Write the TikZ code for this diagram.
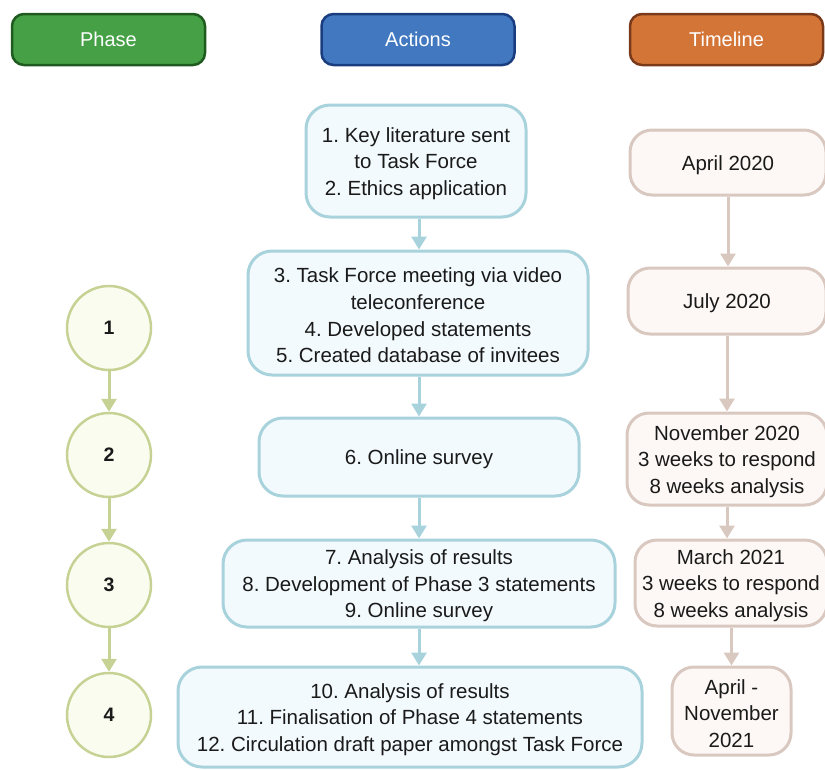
\documentclass[tikz,border=0pt]{standalone}
\usepackage{fontspec}
\setmainfont{Liberation Sans}
\usetikzlibrary{arrows.meta}
\frenchspacing
\definecolor{phfill}{HTML}{46A046}
\definecolor{phdraw}{HTML}{1F5A1F}
\definecolor{acfill}{HTML}{4178C0}
\definecolor{acdraw}{HTML}{1A3D80}
\definecolor{tlfill}{HTML}{D47538}
\definecolor{tldraw}{HTML}{7A3A1A}
\definecolor{cfill}{HTML}{FAFCEF}
\definecolor{cdraw}{HTML}{C6D294}
\definecolor{afill}{HTML}{F3FAFD}
\definecolor{adraw}{HTML}{A8D2DC}
\definecolor{tfill}{HTML}{FDF8F5}
\definecolor{tdraw}{HTML}{D9C8C0}
\definecolor{txt}{HTML}{1A1A1A}
\tikzset{
  header/.style={rounded corners=12pt, line width=2.5pt, minimum width=193pt, minimum height=51pt, text=white, font=\fontsize{20}{24}\selectfont},
  phasecirc/.style={circle, draw=cdraw, fill=cfill, line width=2.5pt, minimum size=84pt, inner sep=0pt, font=\fontsize{19.5}{23}\selectfont\bfseries, text=txt},
  actbox/.style={draw=adraw, fill=afill, line width=3pt, rounded corners=24pt, inner sep=0pt},
  timebox/.style={draw=tdraw, fill=tfill, line width=3pt, rounded corners=22pt, inner sep=0pt},
  boxtext/.style={align=center, text=txt, font=\fontsize{20.5}{26.6}\selectfont, inner sep=0pt, yshift=-2.5pt},
  garrow/.style={draw=cdraw, line width=3pt, -{Triangle[width=15pt,length=13pt]}},
  barrow/.style={draw=adraw, line width=3pt, -{Triangle[width=15pt,length=13pt]}},
  tarrow/.style={draw=tdraw, line width=3pt, -{Triangle[width=15pt,length=13pt]}}
}
\begin{document}
\begin{tikzpicture}[x=1pt,y=-1pt]
\useasboundingbox (0,0) rectangle (825,769);
\clip (0,0) rectangle (825,769);
% headers
\node[header, draw=phdraw, fill=phfill] (hph) at (108.5,39.5) {Phase};
\node[header, draw=acdraw, fill=acfill] (hac) at (418,39.5) {Actions};
\node[header, draw=tldraw, fill=tlfill] (htl) at (726.5,39.5) {Timeline};
% phases
\node[phasecirc] (p1) at (109,328) {1};
\node[phasecirc] (p2) at (109,455) {2};
\node[phasecirc] (p3) at (109,585) {3};
\node[phasecirc] (p4) at (109,715) {4};
\draw[garrow] (p1.south) -- (p2.north);
\draw[garrow] (p2.south) -- (p3.north);
\draw[garrow] (p3.south) -- (p4.north);
% actions
\node[actbox, minimum width=220pt, minimum height=112pt] (a1) at (416,161) {};
\node[boxtext] (a1t) at (a1.center) {1. Key literature sent\\to Task Force\\2. Ethics application};
\node[actbox, minimum width=340pt, minimum height=124pt] (a2) at (418,313) {};
\node[boxtext] (a2t) at (a2.center) {3. Task Force meeting via video\\teleconference\\4. Developed statements\\5. Created database of invitees};
\node[actbox, minimum width=320pt, minimum height=78pt] (a3) at (419,457) {};
\node[boxtext] (a3t) at (a3.center) {6. Online survey};
\node[actbox, minimum width=392pt, minimum height=87pt] (a4) at (419,583.5) {};
\node[boxtext] (a4t) at (a4.center) {7. Analysis of results\\8. Development of Phase 3 statements\\9. Online survey};
\node[actbox, minimum width=464pt, minimum height=100pt] (a5) at (410,717) {};
\node[boxtext] (a5t) at (a5.center) {10. Analysis of results\\11. Finalisation of Phase 4 statements\\12. Circulation draft paper amongst Task Force};
\coordinate (ax) at (419,0);
\draw[barrow] (ax |- a1.south) -- (ax |- a2.north);
\draw[barrow] (ax |- a2.south) -- (ax |- a3.north);
\draw[barrow] (ax |- a3.south) -- (ax |- a4.north);
\draw[barrow] (ax |- a4.south) -- (ax |- a5.north);
% timeline
\node[timebox, minimum width=196pt, minimum height=65pt] (t1) at (728,162.5) {};
\node[boxtext] (t1t) at (t1.center) {April 2020};
\node[timebox, minimum width=198pt, minimum height=66pt] (t2) at (727,301) {};
\node[boxtext] (t2t) at (t2.center) {July 2020};
\node[timebox, minimum width=200pt, minimum height=92pt] (t3) at (727,459) {};
\node[boxtext] (t3t) at (t3.center) {November 2020\\3 weeks to respond\\8 weeks analysis};
\node[timebox, minimum width=192pt, minimum height=86pt] (t4) at (731,583) {};
\node[boxtext] (t4t) at (t4.center) {March 2021\\3 weeks to respond\\8 weeks analysis};
\node[timebox, minimum width=119pt, minimum height=88pt] (t5) at (731.5,711) {};
\node[boxtext] (t5t) at (t5.center) {April -\\November\\2021};
\coordinate (tx) at (728,0);
\draw[tarrow] (tx |- t1.south) -- (tx |- t2.north);
\draw[tarrow] (t2.south) -- (t2.south |- t3.north);
\draw[tarrow] (t3.south) -- (t3.south |- t4.north);
\draw[tarrow] (t5.north |- t4.south) -- (t5.north);
\end{tikzpicture}
\end{document}
